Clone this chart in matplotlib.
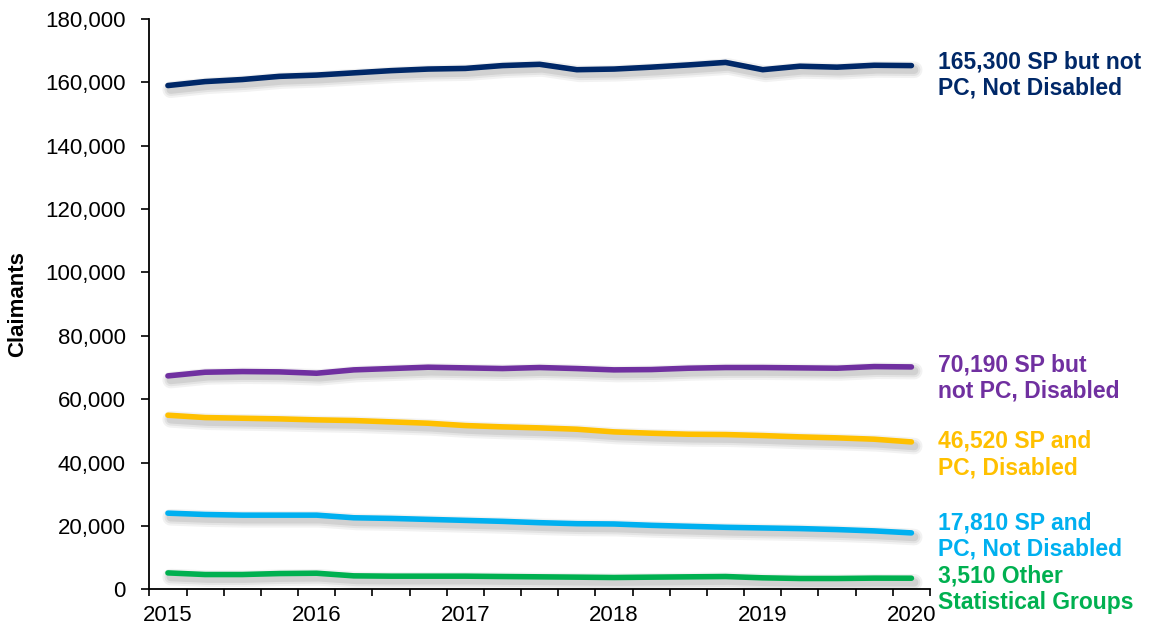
import numpy as np
import matplotlib
matplotlib.use("Agg")
import matplotlib.pyplot as plt
import matplotlib.patheffects as pe
from matplotlib.ticker import FuncFormatter
from matplotlib.transforms import blended_transform_factory

plt.rcParams['font.family'] = ['Liberation Sans', 'DejaVu Sans']

# quarterly points, 2015 Q1 .. 2020 Q1
year_labels = ['2015', '2016', '2017', '2018', '2019', '2020']

sp_not_pc_not_dis = [159000, 160250, 160900, 161900, 162300, 163000, 163700,
                     164200, 164400, 165300, 165700, 164000, 164200, 164800,
                     165500, 166300, 164000, 165100, 164800, 165400, 165300]
sp_not_pc_dis = [67360, 68520, 68730, 68630, 68200, 69260, 69680, 70100,
                 69890, 69680, 70000, 69680, 69260, 69360, 69780, 70000,
                 70000, 69890, 69780, 70300, 70190]
sp_pc_dis = [54950, 54210, 54000, 53790, 53480, 53270, 52850, 52420, 51690,
             51270, 50950, 50530, 49690, 49270, 48950, 48850, 48530, 48110,
             47800, 47380, 46520]
sp_pc_not_dis = [24040, 23620, 23410, 23410, 23410, 22580, 22380, 22070,
                 21760, 21450, 21030, 20720, 20620, 20200, 19890, 19580,
                 19370, 19170, 18860, 18440, 17810]
other_groups = [5180, 4670, 4670, 4980, 5080, 4250, 4150, 4150, 4150, 4040,
                3940, 3840, 3730, 3840, 3940, 4040, 3630, 3420, 3420, 3530,
                3510]

series = [sp_not_pc_not_dis, sp_not_pc_dis, sp_pc_dis, sp_pc_not_dis, other_groups]
labels = ['165,300 SP but not\nPC, Not Disabled',
          '70,190 SP but\nnot PC, Disabled',
          '46,520 SP and\nPC, Disabled',
          '17,810 SP and\nPC, Not Disabled',
          '3,510 Other\nStatistical Groups']
colors = ['#002868', '#7030A0', '#FFC000', '#00B0F0', '#00B050']
label_y = [162400, 66700, 42550, 16830, -60]

fig = plt.figure(figsize=(11.55, 6.27), dpi=100)
ax = fig.add_axes([0.1293, 0.0601, 0.6759, 0.9096])

x = np.arange(len(sp_pc_dis))
# soft drop shadow under each line
shadow = [pe.SimpleLineShadow(offset=(2, -3), shadow_color='black', alpha=a, linewidth=w)
          for a, w in [(0.05, 12), (0.06, 9), (0.08, 6)]] + [pe.Normal()]
for vals, c in zip(series, colors):
    ax.plot(x, vals, color=c, lw=4, solid_capstyle='round', solid_joinstyle='round',
            path_effects=shadow)

trans = blended_transform_factory(ax.transAxes, ax.transData)
for txt, ly, c in zip(labels, label_y, colors):
    ax.text(1.0102, ly, txt, transform=trans, color=c, fontsize=16.5,
            fontweight='bold', va='center', ha='left', linespacing=1.17)

ax.set_xlim(-0.5, len(x) - 0.5)
ax.set_ylim(0, 180000)
ax.set_yticks(np.arange(0, 180001, 20000))
ax.yaxis.set_major_formatter(FuncFormatter(lambda v, p: f'{int(v):,}'))

ax.set_xticks(np.arange(-0.5, len(x)))
ax.set_xticklabels([])
ax.set_xticks(np.arange(0, len(x), 4), minor=True)
ax.set_xticklabels(year_labels, minor=True)
ax.tick_params(axis='x', which='major', length=5, width=1.2, direction='out')
ax.tick_params(axis='x', which='minor', length=0, pad=11, labelsize=16)
ax.tick_params(axis='y', length=6, width=1.2, pad=11, labelsize=16)

for s in ['top', 'right']:
    ax.spines[s].set_visible(False)
for s in ['left', 'bottom']:
    ax.spines[s].set_linewidth(1.3)

ax.set_ylabel('Claimants', fontsize=16, fontweight='bold')
ax.yaxis.set_label_coords(-0.155, 0.5)

fig.savefig('out.png', dpi=100)
